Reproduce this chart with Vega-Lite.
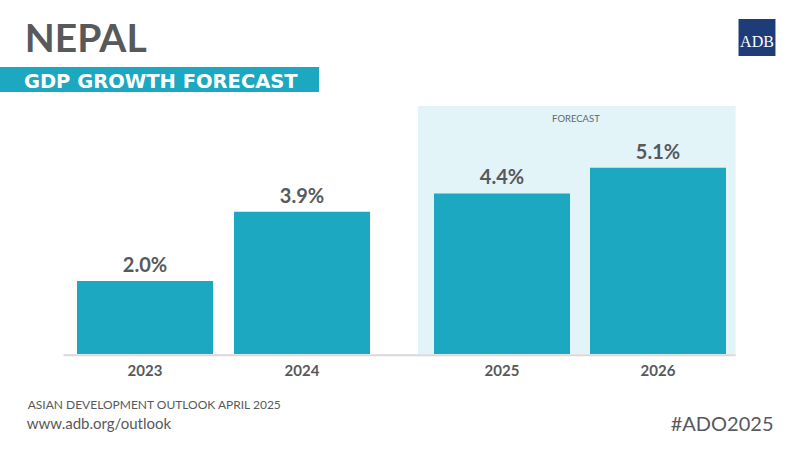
{
  "$schema": "https://vega.github.io/schema/vega-lite/v6.json",
  "width": 800,
  "height": 450,
  "autosize": {"type": "none"},
  "padding": 0,
  "background": "#ffffff",
  "config": {"view": {"stroke": null}, "font": "Lato"},
  "datasets": {
    "gdp": [
      {"year": 2023, "value": 2.0},
      {"year": 2024, "value": 3.9},
      {"year": 2025, "value": 4.4},
      {"year": 2026, "value": 5.1}
    ],
    "one": [{"k": 1}]
  },
  "layer": [
    {
      "data": {"name": "one"},
      "mark": {"type": "rect", "color": "#e2f4f8"},
      "encoding": {
        "x": {"datum": 2024.58, "type": "quantitative", "axis": null,
          "scale": {"domain": [2022, 2023, 2024, 2025, 2026, 2027], "range": [-12, 145, 302, 502, 658, 814], "nice": false, "zero": false}},
        "x2": {"datum": 2026.513},
        "y": {"datum": 6.795, "type": "quantitative", "axis": null,
          "scale": {"domain": [-2.63, 9.699], "nice": false, "zero": false}},
        "y2": {"datum": 0}
      }
    },
    {
      "data": {"name": "one"},
      "mark": {"type": "text", "text": "FORECAST", "fontSize": 9.5, "color": "#666666", "align": "center", "baseline": "alphabetic"},
      "encoding": {
        "x": {"datum": 2025.474, "type": "quantitative"},
        "y": {"datum": 6.37, "type": "quantitative"}
      }
    },
    {
      "data": {"name": "gdp"},
      "mark": {"type": "bar", "color": "#1ba8c0", "width": 136},
      "encoding": {
        "x": {"field": "year", "type": "quantitative"},
        "y": {"field": "value", "type": "quantitative"},
        "y2": {"datum": 0}
      }
    },
    {
      "data": {"name": "one"},
      "mark": {"type": "rule", "color": "#d9d9d9", "strokeWidth": 2},
      "encoding": {
        "x": {"datum": 2022.465, "type": "quantitative"},
        "x2": {"datum": 2026.513},
        "y": {"datum": -0.036, "type": "quantitative"}
      }
    },
    {
      "data": {"name": "gdp"},
      "transform": [{"calculate": "format(datum.value, '.1f') + '%'", "as": "label"}],
      "mark": {"type": "text", "fontSize": 20, "fontWeight": "bold", "color": "#58595b", "align": "center", "baseline": "alphabetic", "dy": -9},
      "encoding": {
        "x": {"field": "year", "type": "quantitative"},
        "y": {"field": "value", "type": "quantitative"},
        "text": {"field": "label", "type": "nominal"}
      }
    },
    {
      "data": {"name": "gdp"},
      "mark": {"type": "text", "fontSize": 15, "fontWeight": "bold", "color": "#58595b", "align": "center", "baseline": "alphabetic"},
      "encoding": {
        "x": {"field": "year", "type": "quantitative"},
        "y": {"datum": -0.589, "type": "quantitative"},
        "text": {"field": "year", "type": "nominal"}
      }
    },
    {
      "data": {"name": "one"},
      "mark": {"type": "text", "text": "NEPAL", "fontSize": 39, "fontWeight": "bold", "color": "#58595b", "align": "left", "baseline": "alphabetic"},
      "encoding": {
        "x": {"datum": 2022.21, "type": "quantitative"},
        "y": {"datum": 8.274, "type": "quantitative"}
      }
    },
    {
      "data": {"name": "one"},
      "mark": {"type": "rect", "color": "#1ba8c0"},
      "encoding": {
        "x": {"datum": 2022.0, "type": "quantitative"},
        "x2": {"datum": 2024.085},
        "y": {"datum": 7.863, "type": "quantitative"},
        "y2": {"datum": 7.178}
      }
    },
    {
      "data": {"name": "one"},
      "mark": {"type": "text", "text": "GDP GROWTH FORECAST", "font": "DejaVu Sans", "fontSize": 19.5, "fontWeight": "bold", "color": "#ffffff", "align": "left", "baseline": "alphabetic"},
      "encoding": {
        "x": {"datum": 2022.205, "type": "quantitative"},
        "y": {"datum": 7.3, "type": "quantitative"}
      }
    },
    {
      "data": {"name": "one"},
      "mark": {"type": "rect", "color": "#1e3c78"},
      "encoding": {
        "x": {"datum": 2026.532, "type": "quantitative"},
        "x2": {"datum": 2026.776},
        "y": {"datum": 9.178, "type": "quantitative"},
        "y2": {"datum": 8.164}
      }
    },
    {
      "data": {"name": "one"},
      "mark": {"type": "text", "text": "ADB", "font": "Liberation Serif", "fontSize": 16, "color": "#ffffff", "align": "center", "baseline": "alphabetic"},
      "encoding": {
        "x": {"datum": 2026.654, "type": "quantitative"},
        "y": {"datum": 8.411, "type": "quantitative"}
      }
    },
    {
      "data": {"name": "one"},
      "mark": {"type": "text", "text": "ASIAN DEVELOPMENT OUTLOOK APRIL 2025", "fontSize": 12, "color": "#58595b", "align": "left", "baseline": "alphabetic"},
      "encoding": {
        "x": {"datum": 2022.23, "type": "quantitative"},
        "y": {"datum": -1.507, "type": "quantitative"}
      }
    },
    {
      "data": {"name": "one"},
      "mark": {"type": "text", "text": "www.adb.org/outlook", "fontSize": 15, "color": "#58595b", "align": "left", "baseline": "alphabetic"},
      "encoding": {
        "x": {"datum": 2022.223, "type": "quantitative"},
        "y": {"datum": -2.055, "type": "quantitative"}
      }
    },
    {
      "data": {"name": "one"},
      "mark": {"type": "text", "text": "#ADO2025", "fontSize": 20, "color": "#58595b", "align": "right", "baseline": "alphabetic"},
      "encoding": {
        "x": {"datum": 2026.763, "type": "quantitative"},
        "y": {"datum": -2.096, "type": "quantitative"}
      }
    }
  ]
}
